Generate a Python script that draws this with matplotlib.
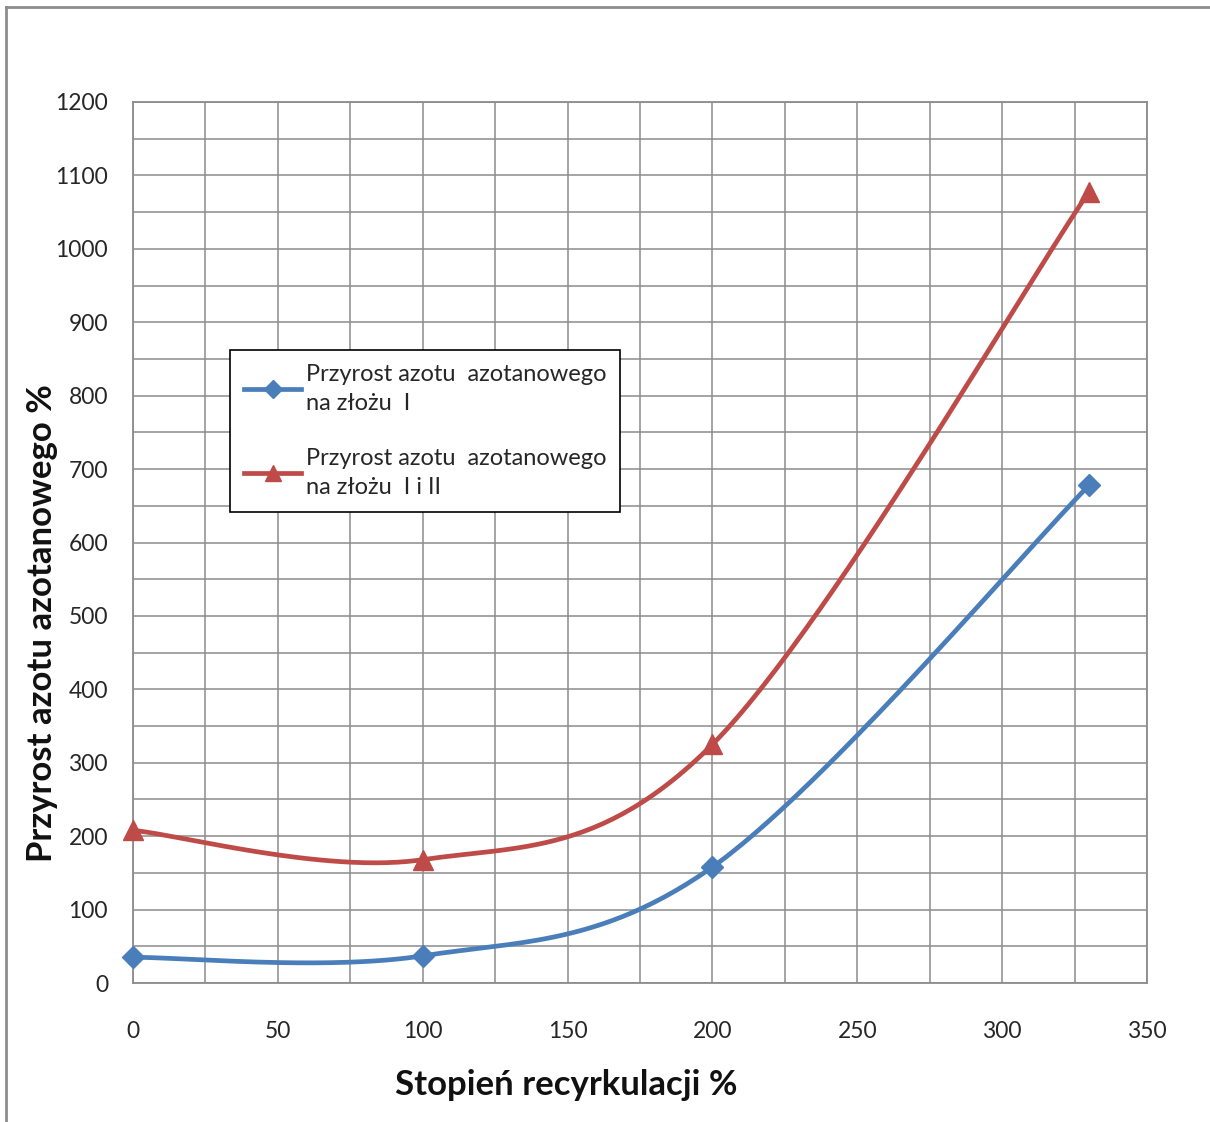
import numpy as np
import matplotlib
matplotlib.use("Agg")
import matplotlib.pyplot as plt
from matplotlib.lines import Line2D
from matplotlib.ticker import MultipleLocator

# ---- data ----
x_vals = [0, 100, 200, 330]
blue_vals = [35, 37, 158, 678]
red_vals = [208, 168, 325, 1078]
blue_label = "Przyrost azotu  azotanowego\nna złożu  I"
red_label = "Przyrost azotu  azotanowego\nna złożu  I i II"
x_label = "Stopień recyrkulacji %"
y_label = "Przyrost azotu azotanowego %"
x_ticks = [0, 50, 100, 150, 200, 250, 300, 350]
y_ticks = list(range(0, 1300, 100))

BLUE = "#4A7EBB"
RED = "#BE4B48"
GRID = "#8c8c8c"

plt.rcParams['font.family'] = ['Lato', 'DejaVu Sans']

W, H = 1210, 1122


def smooth(xs, ys, n=60):
    """Excel-like smoothed line: cubic Bezier with Catmull-Rom control points."""
    P = np.column_stack([xs, ys]).astype(float)
    m = len(P)
    out = []
    for i in range(m - 1):
        p0 = P[i - 1] if i > 0 else P[i]
        p1 = P[i]
        p2 = P[i + 1]
        p3 = P[i + 2] if i + 2 < m else P[i + 1]
        c1 = p1 + (p2 - p0) / 6.0
        c2 = p2 - (p3 - p1) / 6.0
        t = np.linspace(0, 1, n)[:, None]
        seg = ((1 - t) ** 3) * p1 + 3 * ((1 - t) ** 2) * t * c1 + 3 * (1 - t) * t ** 2 * c2 + t ** 3 * p2
        if i > 0:
            seg = seg[1:]
        out.append(seg)
    out = np.vstack(out)
    return out[:, 0], out[:, 1]


fig = plt.figure(figsize=(W / 100, H / 100), dpi=100)
ax = fig.add_axes([133 / W, 1 - 983 / H, (1147 - 133) / W, (983 - 102) / H])

ax.set_xlim(0, 350)
ax.set_ylim(0, 1200)
ax.set_xticks(x_ticks)
ax.set_yticks(y_ticks)
ax.xaxis.set_minor_locator(MultipleLocator(25))
ax.yaxis.set_minor_locator(MultipleLocator(50))
ax.grid(True, which='both', color=GRID, linewidth=1.1)
ax.set_axisbelow(True)
for s in ax.spines.values():
    s.set_color(GRID)
    s.set_linewidth(1.3)
ax.tick_params(which='both', length=0)
ax.tick_params(axis='x', pad=27, labelsize=16.5, colors='#262626')
ax.tick_params(axis='y', pad=18, labelsize=16.5, colors='#262626')

bx, by = smooth(x_vals, blue_vals)
rx, ry = smooth(x_vals, red_vals)
ax.plot(bx, by, color=BLUE, linewidth=3.4, zorder=3)
ax.plot(rx, ry, color=RED, linewidth=3.4, zorder=3)
ax.plot(x_vals, blue_vals, linestyle='none', marker='D', markersize=11, color=BLUE, zorder=4, clip_on=False)
ax.plot(x_vals, red_vals, linestyle='none', marker='^', markersize=14, color=RED, zorder=4, clip_on=False)

fig.text(566 / W, 1 - 1085 / H, x_label, fontsize=25, fontweight='bold',
         ha='center', va='center', color='#111111')
fig.text(42 / W, 1 - 623 / H, y_label, fontsize=25, fontweight='bold',
         ha='center', va='center', rotation=90, color='#111111')

handles = [
    Line2D([], [], color=BLUE, linewidth=3.4, marker='D', markersize=9),
    Line2D([], [], color=RED, linewidth=3.4, marker='^', markersize=12),
]
leg = ax.legend(handles, [blue_label, red_label], loc='upper left',
                bbox_to_anchor=((230 - 133) / (1147 - 133), (983 - 350) / (983 - 102)),
                fontsize=17, frameon=True, fancybox=False, framealpha=1,
                edgecolor='black', handlelength=2.4, handletextpad=0.2,
                labelspacing=1.45, borderpad=0.6, borderaxespad=0)
leg.get_frame().set_linewidth(1.2)
for t in leg.get_texts():
    t.set_linespacing(1.46)
    t.set_color('#262626')

# outer chart frame (left and top edges visible)
fig.add_artist(Line2D([6 / W, 6 / W], [0, 1 - 7 / H], transform=fig.transFigure, color='#8c8c8c', linewidth=2))
fig.add_artist(Line2D([6 / W, 1], [1 - 7 / H, 1 - 7 / H], transform=fig.transFigure, color='#8c8c8c', linewidth=2))

fig.savefig("out.png", dpi=100)
